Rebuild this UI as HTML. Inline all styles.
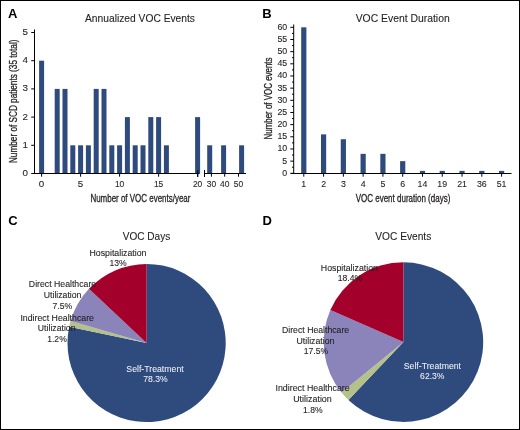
<!DOCTYPE html>
<html><head><meta charset="utf-8"><style>
html,body{margin:0;padding:0;background:#fff;}
svg{display:block;will-change:transform;font-family:"Liberation Sans",sans-serif;}
</style></head><body>
<svg width="520" height="430" viewBox="0 0 520 430">
<rect width="520" height="430" fill="#fff"/>
<text x="8" y="17.8" font-size="13" fill="#000" font-weight="bold" >A</text>
<text x="140" y="21.8" font-size="11" stroke="#231f20" stroke-width="0.1" text-anchor="middle" textLength="110" lengthAdjust="spacingAndGlyphs" fill="#231f20" >Annualized VOC Events</text>
<rect x="39.10" y="60.70" width="5.00" height="113.30" fill="#2f4b7e"/>
<rect x="54.70" y="88.90" width="5.00" height="85.10" fill="#2f4b7e"/>
<rect x="62.50" y="88.90" width="5.00" height="85.10" fill="#2f4b7e"/>
<rect x="70.30" y="145.30" width="5.00" height="28.70" fill="#2f4b7e"/>
<rect x="78.10" y="145.30" width="5.00" height="28.70" fill="#2f4b7e"/>
<rect x="85.90" y="145.30" width="5.00" height="28.70" fill="#2f4b7e"/>
<rect x="93.70" y="88.90" width="5.00" height="85.10" fill="#2f4b7e"/>
<rect x="101.50" y="88.90" width="5.00" height="85.10" fill="#2f4b7e"/>
<rect x="109.30" y="145.30" width="5.00" height="28.70" fill="#2f4b7e"/>
<rect x="117.10" y="145.30" width="5.00" height="28.70" fill="#2f4b7e"/>
<rect x="124.90" y="117.10" width="5.00" height="56.90" fill="#2f4b7e"/>
<rect x="132.70" y="145.30" width="5.00" height="28.70" fill="#2f4b7e"/>
<rect x="140.50" y="145.30" width="5.00" height="28.70" fill="#2f4b7e"/>
<rect x="148.30" y="117.10" width="5.00" height="56.90" fill="#2f4b7e"/>
<rect x="156.10" y="117.10" width="5.00" height="56.90" fill="#2f4b7e"/>
<rect x="163.90" y="145.30" width="5.00" height="28.70" fill="#2f4b7e"/>
<rect x="195.10" y="117.10" width="5.00" height="56.90" fill="#2f4b7e"/>
<rect x="207.20" y="145.30" width="5.00" height="28.70" fill="#2f4b7e"/>
<rect x="221.10" y="145.30" width="5.00" height="28.70" fill="#2f4b7e"/>
<rect x="239.10" y="145.30" width="5.00" height="28.70" fill="#2f4b7e"/>
<line x1="34.5" y1="29.5" x2="34.5" y2="174" stroke="#000" stroke-width="1"/>
<line x1="31.2" y1="173.5" x2="34.5" y2="173.5" stroke="#000" stroke-width="1"/>
<text x="28.0" y="176.0" font-size="9.8" stroke="#231f20" stroke-width="0.1" text-anchor="end" fill="#231f20" >0</text>
<line x1="31.2" y1="145.3" x2="34.5" y2="145.3" stroke="#000" stroke-width="1"/>
<text x="28.0" y="147.8" font-size="9.8" stroke="#231f20" stroke-width="0.1" text-anchor="end" fill="#231f20" >1</text>
<line x1="31.2" y1="117.1" x2="34.5" y2="117.1" stroke="#000" stroke-width="1"/>
<text x="28.0" y="119.6" font-size="9.8" stroke="#231f20" stroke-width="0.1" text-anchor="end" fill="#231f20" >2</text>
<line x1="31.2" y1="88.9" x2="34.5" y2="88.9" stroke="#000" stroke-width="1"/>
<text x="28.0" y="91.4" font-size="9.8" stroke="#231f20" stroke-width="0.1" text-anchor="end" fill="#231f20" >3</text>
<line x1="31.2" y1="60.7" x2="34.5" y2="60.7" stroke="#000" stroke-width="1"/>
<text x="28.0" y="63.2" font-size="9.8" stroke="#231f20" stroke-width="0.1" text-anchor="end" fill="#231f20" >4</text>
<line x1="31.2" y1="32.5" x2="34.5" y2="32.5" stroke="#000" stroke-width="1"/>
<text x="28.0" y="35.0" font-size="9.8" stroke="#231f20" stroke-width="0.1" text-anchor="end" fill="#231f20" >5</text>
<line x1="34" y1="173.5" x2="198.7" y2="173.5" stroke="#000" stroke-width="1"/>
<line x1="204" y1="173.5" x2="246" y2="173.5" stroke="#000" stroke-width="1"/>
<line x1="197.8" y1="170" x2="197.8" y2="177" stroke="#000" stroke-width="1"/>
<line x1="204.5" y1="170" x2="204.5" y2="177" stroke="#000" stroke-width="1"/>
<line x1="41.6" y1="173.5" x2="41.6" y2="176.7" stroke="#000" stroke-width="1"/>
<text x="41.6" y="187.3" font-size="9.8" stroke="#231f20" stroke-width="0.1" text-anchor="middle" fill="#231f20" >0</text>
<line x1="80.6" y1="173.5" x2="80.6" y2="176.7" stroke="#000" stroke-width="1"/>
<text x="80.6" y="187.3" font-size="9.8" stroke="#231f20" stroke-width="0.1" text-anchor="middle" fill="#231f20" >5</text>
<line x1="119.6" y1="173.5" x2="119.6" y2="176.7" stroke="#000" stroke-width="1"/>
<text x="119.6" y="187.3" font-size="9.8" stroke="#231f20" stroke-width="0.1" text-anchor="middle" textLength="9.4" lengthAdjust="spacingAndGlyphs" fill="#231f20" >10</text>
<line x1="158.6" y1="173.5" x2="158.6" y2="176.7" stroke="#000" stroke-width="1"/>
<text x="158.6" y="187.3" font-size="9.8" stroke="#231f20" stroke-width="0.1" text-anchor="middle" textLength="9.4" lengthAdjust="spacingAndGlyphs" fill="#231f20" >15</text>
<line x1="197.6" y1="173.5" x2="197.6" y2="176.7" stroke="#000" stroke-width="1"/>
<text x="197.6" y="187.3" font-size="9.8" stroke="#231f20" stroke-width="0.1" text-anchor="middle" textLength="9.4" lengthAdjust="spacingAndGlyphs" fill="#231f20" >20</text>
<line x1="211.4" y1="173.5" x2="211.4" y2="176.7" stroke="#000" stroke-width="1"/>
<text x="211.4" y="187.3" font-size="9.8" stroke="#231f20" stroke-width="0.1" text-anchor="middle" textLength="9.4" lengthAdjust="spacingAndGlyphs" fill="#231f20" >30</text>
<line x1="224.7" y1="173.5" x2="224.7" y2="176.7" stroke="#000" stroke-width="1"/>
<text x="224.7" y="187.3" font-size="9.8" stroke="#231f20" stroke-width="0.1" text-anchor="middle" textLength="9.4" lengthAdjust="spacingAndGlyphs" fill="#231f20" >40</text>
<line x1="238.5" y1="173.5" x2="238.5" y2="176.7" stroke="#000" stroke-width="1"/>
<text x="238.5" y="187.3" font-size="9.8" stroke="#231f20" stroke-width="0.1" text-anchor="middle" textLength="9.4" lengthAdjust="spacingAndGlyphs" fill="#231f20" >50</text>
<text x="140.4" y="201.6" font-size="11" stroke="#231f20" stroke-width="0.3" text-anchor="middle" textLength="100" lengthAdjust="spacingAndGlyphs" fill="#231f20" >Number of VOC events/year</text>
<text transform="translate(16.6,101.3) rotate(-90)" x="0" y="0" font-size="11" text-anchor="middle" textLength="123.5" lengthAdjust="spacingAndGlyphs" fill="#231f20" stroke="#231f20" stroke-width="0.3">Number of SCD patients (35 total)</text>
<text x="262.3" y="17.9" font-size="13" fill="#000" font-weight="bold" >B</text>
<text x="402.7" y="21.8" font-size="11" stroke="#231f20" stroke-width="0.1" text-anchor="middle" textLength="94" lengthAdjust="spacingAndGlyphs" fill="#231f20" >VOC Event Duration</text>
<rect x="301.20" y="27.32" width="5.20" height="146.68" fill="#2f4b7e"/>
<line x1="303.8" y1="173.5" x2="303.8" y2="176.7" stroke="#000" stroke-width="1"/>
<text x="303.8" y="187.0" font-size="8.8" stroke="#231f20" stroke-width="0.1" text-anchor="middle" fill="#231f20" >1</text>
<rect x="320.98" y="134.37" width="5.20" height="39.63" fill="#2f4b7e"/>
<line x1="323.58000000000004" y1="173.5" x2="323.58000000000004" y2="176.7" stroke="#000" stroke-width="1"/>
<text x="323.58000000000004" y="187.0" font-size="8.8" stroke="#231f20" stroke-width="0.1" text-anchor="middle" fill="#231f20" >2</text>
<rect x="340.76" y="139.24" width="5.20" height="34.76" fill="#2f4b7e"/>
<line x1="343.36" y1="173.5" x2="343.36" y2="176.7" stroke="#000" stroke-width="1"/>
<text x="343.36" y="187.0" font-size="8.8" stroke="#231f20" stroke-width="0.1" text-anchor="middle" fill="#231f20" >3</text>
<rect x="360.54" y="153.84" width="5.20" height="20.16" fill="#2f4b7e"/>
<line x1="363.14" y1="173.5" x2="363.14" y2="176.7" stroke="#000" stroke-width="1"/>
<text x="363.14" y="187.0" font-size="8.8" stroke="#231f20" stroke-width="0.1" text-anchor="middle" fill="#231f20" >4</text>
<rect x="380.32" y="153.84" width="5.20" height="20.16" fill="#2f4b7e"/>
<line x1="382.92" y1="173.5" x2="382.92" y2="176.7" stroke="#000" stroke-width="1"/>
<text x="382.92" y="187.0" font-size="8.8" stroke="#231f20" stroke-width="0.1" text-anchor="middle" fill="#231f20" >5</text>
<rect x="400.10" y="161.14" width="5.20" height="12.86" fill="#2f4b7e"/>
<line x1="402.70000000000005" y1="173.5" x2="402.70000000000005" y2="176.7" stroke="#000" stroke-width="1"/>
<text x="402.70000000000005" y="187.0" font-size="8.8" stroke="#231f20" stroke-width="0.1" text-anchor="middle" fill="#231f20" >6</text>
<rect x="419.88" y="170.87" width="5.20" height="3.13" fill="#2f4b7e"/>
<line x1="422.48" y1="173.5" x2="422.48" y2="176.7" stroke="#000" stroke-width="1"/>
<text x="422.48" y="187.0" font-size="8.8" stroke="#231f20" stroke-width="0.1" text-anchor="middle" fill="#231f20" >14</text>
<rect x="439.66" y="170.87" width="5.20" height="3.13" fill="#2f4b7e"/>
<line x1="442.26" y1="173.5" x2="442.26" y2="176.7" stroke="#000" stroke-width="1"/>
<text x="442.26" y="187.0" font-size="8.8" stroke="#231f20" stroke-width="0.1" text-anchor="middle" fill="#231f20" >19</text>
<rect x="459.44" y="170.87" width="5.20" height="3.13" fill="#2f4b7e"/>
<line x1="462.04" y1="173.5" x2="462.04" y2="176.7" stroke="#000" stroke-width="1"/>
<text x="462.04" y="187.0" font-size="8.8" stroke="#231f20" stroke-width="0.1" text-anchor="middle" fill="#231f20" >21</text>
<rect x="479.22" y="170.87" width="5.20" height="3.13" fill="#2f4b7e"/>
<line x1="481.82000000000005" y1="173.5" x2="481.82000000000005" y2="176.7" stroke="#000" stroke-width="1"/>
<text x="481.82000000000005" y="187.0" font-size="8.8" stroke="#231f20" stroke-width="0.1" text-anchor="middle" fill="#231f20" >36</text>
<rect x="499.00" y="170.87" width="5.20" height="3.13" fill="#2f4b7e"/>
<line x1="501.6" y1="173.5" x2="501.6" y2="176.7" stroke="#000" stroke-width="1"/>
<text x="501.6" y="187.0" font-size="8.8" stroke="#231f20" stroke-width="0.1" text-anchor="middle" fill="#231f20" >51</text>
<line x1="293.7" y1="24.5" x2="293.7" y2="174" stroke="#000" stroke-width="1"/>
<line x1="290.3" y1="173.3" x2="293.7" y2="173.3" stroke="#000" stroke-width="1"/>
<text x="287.2" y="175.8" font-size="8.8" stroke="#231f20" stroke-width="0.1" text-anchor="end" fill="#231f20" >0</text>
<line x1="290.3" y1="161.13500000000002" x2="293.7" y2="161.13500000000002" stroke="#000" stroke-width="1"/>
<text x="287.2" y="163.63500000000002" font-size="8.8" stroke="#231f20" stroke-width="0.1" text-anchor="end" fill="#231f20" >5</text>
<line x1="290.3" y1="148.97000000000003" x2="293.7" y2="148.97000000000003" stroke="#000" stroke-width="1"/>
<text x="287.2" y="151.47000000000003" font-size="8.8" stroke="#231f20" stroke-width="0.1" text-anchor="end" fill="#231f20" >10</text>
<line x1="290.3" y1="136.805" x2="293.7" y2="136.805" stroke="#000" stroke-width="1"/>
<text x="287.2" y="139.305" font-size="8.8" stroke="#231f20" stroke-width="0.1" text-anchor="end" fill="#231f20" >15</text>
<line x1="290.3" y1="124.64000000000001" x2="293.7" y2="124.64000000000001" stroke="#000" stroke-width="1"/>
<text x="287.2" y="127.14000000000001" font-size="8.8" stroke="#231f20" stroke-width="0.1" text-anchor="end" fill="#231f20" >20</text>
<line x1="290.3" y1="112.47500000000002" x2="293.7" y2="112.47500000000002" stroke="#000" stroke-width="1"/>
<text x="287.2" y="114.97500000000002" font-size="8.8" stroke="#231f20" stroke-width="0.1" text-anchor="end" fill="#231f20" >25</text>
<line x1="290.3" y1="100.31000000000002" x2="293.7" y2="100.31000000000002" stroke="#000" stroke-width="1"/>
<text x="287.2" y="102.81000000000002" font-size="8.8" stroke="#231f20" stroke-width="0.1" text-anchor="end" fill="#231f20" >30</text>
<line x1="290.3" y1="88.14500000000001" x2="293.7" y2="88.14500000000001" stroke="#000" stroke-width="1"/>
<text x="287.2" y="90.64500000000001" font-size="8.8" stroke="#231f20" stroke-width="0.1" text-anchor="end" fill="#231f20" >35</text>
<line x1="290.3" y1="75.98000000000002" x2="293.7" y2="75.98000000000002" stroke="#000" stroke-width="1"/>
<text x="287.2" y="78.48000000000002" font-size="8.8" stroke="#231f20" stroke-width="0.1" text-anchor="end" fill="#231f20" >40</text>
<line x1="290.3" y1="63.815000000000026" x2="293.7" y2="63.815000000000026" stroke="#000" stroke-width="1"/>
<text x="287.2" y="66.31500000000003" font-size="8.8" stroke="#231f20" stroke-width="0.1" text-anchor="end" fill="#231f20" >45</text>
<line x1="290.3" y1="51.65000000000002" x2="293.7" y2="51.65000000000002" stroke="#000" stroke-width="1"/>
<text x="287.2" y="54.15000000000002" font-size="8.8" stroke="#231f20" stroke-width="0.1" text-anchor="end" fill="#231f20" >50</text>
<line x1="290.3" y1="39.485000000000014" x2="293.7" y2="39.485000000000014" stroke="#000" stroke-width="1"/>
<text x="287.2" y="41.985000000000014" font-size="8.8" stroke="#231f20" stroke-width="0.1" text-anchor="end" fill="#231f20" >55</text>
<line x1="290.3" y1="27.32000000000002" x2="293.7" y2="27.32000000000002" stroke="#000" stroke-width="1"/>
<text x="287.2" y="29.82000000000002" font-size="8.8" stroke="#231f20" stroke-width="0.1" text-anchor="end" fill="#231f20" >60</text>
<line x1="292.0" y1="167.2175" x2="293.7" y2="167.2175" stroke="#000" stroke-width="1"/>
<line x1="292.0" y1="155.0525" x2="293.7" y2="155.0525" stroke="#000" stroke-width="1"/>
<line x1="292.0" y1="142.88750000000002" x2="293.7" y2="142.88750000000002" stroke="#000" stroke-width="1"/>
<line x1="292.0" y1="130.72250000000003" x2="293.7" y2="130.72250000000003" stroke="#000" stroke-width="1"/>
<line x1="292.0" y1="118.55750000000002" x2="293.7" y2="118.55750000000002" stroke="#000" stroke-width="1"/>
<line x1="292.0" y1="106.39250000000001" x2="293.7" y2="106.39250000000001" stroke="#000" stroke-width="1"/>
<line x1="292.0" y1="94.22750000000002" x2="293.7" y2="94.22750000000002" stroke="#000" stroke-width="1"/>
<line x1="292.0" y1="82.06250000000001" x2="293.7" y2="82.06250000000001" stroke="#000" stroke-width="1"/>
<line x1="292.0" y1="69.89750000000002" x2="293.7" y2="69.89750000000002" stroke="#000" stroke-width="1"/>
<line x1="292.0" y1="57.732500000000016" x2="293.7" y2="57.732500000000016" stroke="#000" stroke-width="1"/>
<line x1="292.0" y1="45.567500000000024" x2="293.7" y2="45.567500000000024" stroke="#000" stroke-width="1"/>
<line x1="292.0" y1="33.40250000000003" x2="293.7" y2="33.40250000000003" stroke="#000" stroke-width="1"/>
<line x1="291" y1="173.5" x2="511.5" y2="173.5" stroke="#000" stroke-width="1"/>
<text x="403" y="201.6" font-size="11" stroke="#231f20" stroke-width="0.3" text-anchor="middle" textLength="94.7" lengthAdjust="spacingAndGlyphs" fill="#231f20" >VOC event duration (days)</text>
<text transform="translate(272.1,98.5) rotate(-90)" x="0" y="0" font-size="11" text-anchor="middle" textLength="82" lengthAdjust="spacingAndGlyphs" fill="#231f20" stroke="#231f20" stroke-width="0.3">Number of VOC events</text>
<text x="8.2" y="224.7" font-size="13" fill="#000" font-weight="bold" >C</text>
<text x="146.5" y="239.8" font-size="11" stroke="#231f20" stroke-width="0.1" text-anchor="middle" textLength="47.5" lengthAdjust="spacingAndGlyphs" fill="#231f20" >VOC Days</text>
<path d="M146.60,343.00 L146.60,263.90 A79.1,79.1 0 1 1 69.19,326.72 Z" fill="#2f4b7e"/>
<path d="M146.60,343.00 L69.19,326.72 A79.1,79.1 0 0 1 70.64,320.93 Z" fill="#b4c188"/>
<path d="M146.60,343.00 L70.64,320.93 A79.1,79.1 0 0 1 88.94,288.85 Z" fill="#8b84bb"/>
<path d="M146.60,343.00 L88.94,288.85 A79.1,79.1 0 0 1 146.60,263.90 Z" fill="#a3002b"/>
<text x="118" y="256.2" font-size="8.6" stroke="#231f20" stroke-width="0.1" text-anchor="middle" textLength="57" lengthAdjust="spacingAndGlyphs" fill="#231f20" >Hospitalization</text>
<text x="118" y="266.4" font-size="8.6" stroke="#231f20" stroke-width="0.1" text-anchor="middle" fill="#231f20" >13%</text>
<text x="62.5" y="287.3" font-size="8.6" stroke="#231f20" stroke-width="0.1" text-anchor="middle" textLength="67.3" lengthAdjust="spacingAndGlyphs" fill="#231f20" >Direct Healthcare</text>
<text x="62.6" y="297.5" font-size="8.6" stroke="#231f20" stroke-width="0.1" text-anchor="middle" textLength="37.7" lengthAdjust="spacingAndGlyphs" fill="#231f20" >Utilization</text>
<text x="62.4" y="308.6" font-size="8.6" stroke="#231f20" stroke-width="0.1" text-anchor="middle" fill="#231f20" >7.5%</text>
<text x="57.2" y="321.0" font-size="8.6" stroke="#231f20" stroke-width="0.1" text-anchor="middle" textLength="73.5" lengthAdjust="spacingAndGlyphs" fill="#231f20" >Indirect Healthcare</text>
<text x="56.7" y="331.4" font-size="8.6" stroke="#231f20" stroke-width="0.1" text-anchor="middle" textLength="37.7" lengthAdjust="spacingAndGlyphs" fill="#231f20" >Utilization</text>
<text x="57.0" y="342.1" font-size="8.6" stroke="#231f20" stroke-width="0.1" text-anchor="middle" fill="#231f20" >1.2%</text>
<text x="155.0" y="371.9" font-size="8.6" stroke="#eef0f6" stroke-width="0.05" text-anchor="middle" textLength="57.3" lengthAdjust="spacingAndGlyphs" fill="#eef0f6" >Self-Treatment</text>
<text x="155.4" y="382.4" font-size="8.6" stroke="#eef0f6" stroke-width="0.05" text-anchor="middle" fill="#eef0f6" >78.3%</text>
<text x="262.5" y="224.8" font-size="13" fill="#000" font-weight="bold" >D</text>
<text x="403.3" y="239.8" font-size="11" stroke="#231f20" stroke-width="0.1" text-anchor="middle" textLength="56" lengthAdjust="spacingAndGlyphs" fill="#231f20" >VOC Events</text>
<path d="M403.40,342.10 L403.40,262.30 A79.8,79.8 0 1 1 348.41,399.93 Z" fill="#2f4b7e"/>
<path d="M403.40,342.10 L348.41,399.93 A79.8,79.8 0 0 1 341.59,392.58 Z" fill="#b4c188"/>
<path d="M403.40,342.10 L341.59,392.58 A79.8,79.8 0 0 1 330.36,309.95 Z" fill="#8b84bb"/>
<path d="M403.40,342.10 L330.36,309.95 A79.8,79.8 0 0 1 403.40,262.30 Z" fill="#a3002b"/>
<text x="349.4" y="270.6" font-size="8.6" stroke="#231f20" stroke-width="0.1" text-anchor="middle" textLength="57.2" lengthAdjust="spacingAndGlyphs" fill="#231f20" >Hospitalization</text>
<text x="349.9" y="280.9" font-size="8.6" stroke="#231f20" stroke-width="0.1" text-anchor="middle" fill="#231f20" >18.4%</text>
<text x="315.6" y="332.8" font-size="8.6" stroke="#231f20" stroke-width="0.1" text-anchor="middle" textLength="67.2" lengthAdjust="spacingAndGlyphs" fill="#231f20" >Direct Healthcare</text>
<text x="315.5" y="343.5" font-size="8.6" stroke="#231f20" stroke-width="0.1" text-anchor="middle" textLength="38" lengthAdjust="spacingAndGlyphs" fill="#231f20" >Utilization</text>
<text x="315.9" y="353.6" font-size="8.6" stroke="#231f20" stroke-width="0.1" text-anchor="middle" fill="#231f20" >17.5%</text>
<text x="312.6" y="391.4" font-size="8.6" stroke="#231f20" stroke-width="0.1" text-anchor="middle" textLength="74.2" lengthAdjust="spacingAndGlyphs" fill="#231f20" >Indirect Healthcare</text>
<text x="312.5" y="401.8" font-size="8.6" stroke="#231f20" stroke-width="0.1" text-anchor="middle" textLength="38.6" lengthAdjust="spacingAndGlyphs" fill="#231f20" >Utilization</text>
<text x="312.8" y="412.5" font-size="8.6" stroke="#231f20" stroke-width="0.1" text-anchor="middle" fill="#231f20" >1.8%</text>
<text x="432.4" y="368.8" font-size="8.6" stroke="#eef0f6" stroke-width="0.05" text-anchor="middle" textLength="57.2" lengthAdjust="spacingAndGlyphs" fill="#eef0f6" >Self-Treatment</text>
<text x="432.3" y="379.2" font-size="8.6" stroke="#eef0f6" stroke-width="0.05" text-anchor="middle" fill="#eef0f6" >62.3%</text>
<rect x="0.5" y="0.5" width="519" height="429" fill="none" stroke="#000" stroke-width="1"/>
</svg>
</body></html>
